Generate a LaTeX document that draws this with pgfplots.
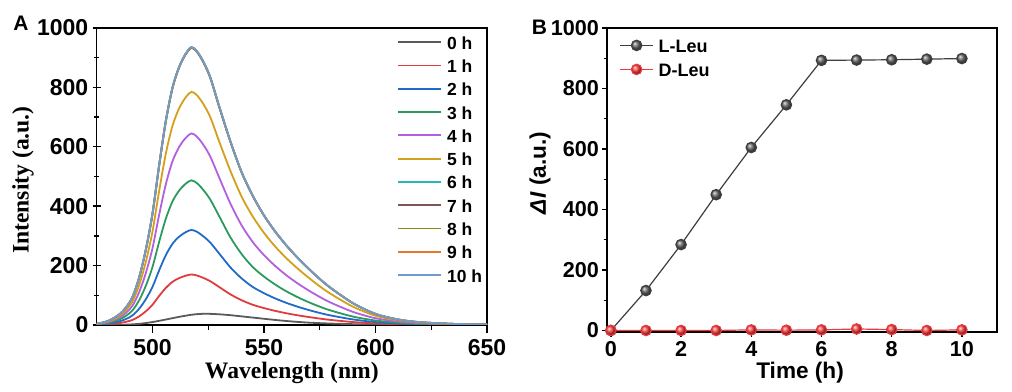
\documentclass[border=0pt]{standalone}
\usepackage{pgfplots}
\usepackage{pgfplotstable}
\pgfplotsset{compat=1.18}
\usepackage{fontspec}
\setmainfont{Liberation Sans}
\newfontfamily\timesfont{Liberation Serif}

\definecolor{c0}{HTML}{5A5A5A}
\definecolor{c1}{HTML}{E03C3F}
\definecolor{c2}{HTML}{1F6BC7}
\definecolor{c3}{HTML}{2C9A5E}
\definecolor{c4}{HTML}{B260DE}
\definecolor{c5}{HTML}{D4A01A}
\definecolor{c6}{HTML}{2BB5BF}
\definecolor{c7}{HTML}{7F5555}
\definecolor{c8}{HTML}{8C8C1E}
\definecolor{c9}{HTML}{E8772E}
\definecolor{c10}{HTML}{6E9CCB}
\definecolor{lleu}{HTML}{3E3E3E}
\definecolor{dleu}{HTML}{EA3A40}

\pgfplotstableread{
w     h0    h1    h2    h3    h4    h5    h6    h7    h8    h9    h10
475   0.0   0.7   1.3   1.9   2.6   3.1   3.7   3.7   3.7   3.7   3.7
480   0.2   2.4   4.5   6.8   9.0   11.0  13.1  13.1  13.1  13.1  13.1
485   0.6   6.3   11.8  18.0  23.9  29.0  34.5  34.6  34.6  34.6  34.6
488   1.2   10.5  19.8  30.2  40.0  48.7  57.8  57.9  58.0  58.0  58.0
491   2.2   17.0  32.0  48.7  64.5  78.5  93.3  93.4  93.5  93.5  93.6
494   3.8   28.9  54.4  82.8  109.7 133.5 158.6 158.8 159.0 159.0 159.1
497   6.5   45.9  86.4  131.5 174.2 212.0 251.9 252.2 252.5 252.6 252.7
500   10.0  68.0  128.0 194.8 258.0 314.0 373.2 373.6 374.0 374.1 374.4
503   14.0  97.8  184.0 280.0 370.9 451.4 536.5 537.1 537.6 537.8 538.2
506   18.5  125.0 235.2 357.9 474.1 577.0 685.8 686.5 687.2 687.4 688.0
509   23.0  145.4 273.6 416.4 551.5 671.2 797.7 798.6 799.4 799.6 800.3
512   27.5  158.1 297.6 452.9 599.9 730.1 867.7 868.6 869.6 869.8 870.5
515   31.5  166.3 313.0 476.3 630.8 767.7 912.5 913.5 914.4 914.7 915.4
517.5 34.5  170.0 320.0 487.0 645.0 785.0 933.0 934.0 935.0 935.0 936.0
520   36.5  166.6 313.6 477.3 633.7 773.2 919.0 920.0 921.0 921.2 922.0
523   37.8  158.1 297.6 452.9 604.7 741.8 881.7 882.6 883.6 883.8 884.5
526   37.5  147.1 276.8 421.3 566.0 698.7 830.4 831.3 832.2 832.4 833.0
530   36.0  127.5 240.0 365.3 495.0 616.2 732.4 733.2 734.0 734.2 734.8
535   33.0  102.9 193.6 294.6 408.0 518.1 615.8 616.4 617.1 617.3 617.8
540   29.0  83.3  156.8 238.6 335.4 431.8 513.2 513.7 514.3 514.4 514.8
545   25.0  68.0  128.0 194.8 279.0 365.0 433.8 434.3 434.8 434.9 435.2
550   21.0  57.0  107.2 163.1 235.4 310.1 368.5 368.9 369.3 369.4 369.7
555   17.0  47.6  89.6  136.4 199.0 264.5 314.4 314.8 315.1 315.2 315.4
560   13.5  39.6  74.6  113.5 167.7 225.3 267.8 268.1 268.3 268.4 268.6
565   10.5  32.8  61.8  94.0  140.6 190.8 226.7 227.0 227.2 227.3 227.4
570   8.0   26.9  50.6  76.9  116.4 159.4 189.4 189.6 189.8 189.9 190.0
575   6.3   21.6  40.6  61.8  94.5  130.3 154.9 155.0 155.2 155.3 155.4
580   4.8   17.0  32.0  48.7  75.1  104.4 124.1 124.2 124.4 124.4 124.5
590   2.8   9.9   18.6  28.2  43.9  61.2  72.8  72.9  72.9  73.0  73.0
600   1.6   5.3   9.9   15.1  22.9  31.4  37.3  37.4  37.4  37.4  37.4
610   1.0   2.7   5.1   7.8   11.6  15.7  18.7  18.7  18.7  18.7  18.7
620   0.5   1.4   2.6   3.9   5.8   7.9   9.3   9.3   9.4   9.4   9.4
635   0.2   0.7   1.3   1.9   2.6   3.1   3.7   3.7   3.7   3.7   3.7
650   0.1   0.3   0.6   1.0   1.3   1.6   1.9   1.9   1.9   1.9   1.9
}\spectra

\pgfplotstableread{
t   L     D
0   0     0
1   132   0
2   284   0
3   449   0
4   605   2
5   746   1
6   893   2
7   894   5
8   895   3
9   897   0
10  899   2
}\kinetics

\begin{document}
\begin{tikzpicture}
\useasboundingbox (0,0) rectangle (506pt,195.5pt);
\begin{axis}[
  at={(48.35pt,33pt)}, anchor=south west,
  scale only axis, width=195.15pt, height=148.5pt,
  xmin=475, xmax=650, ymin=0, ymax=1000,
  xtick={500,550,600,650}, minor x tick num=1,
  ytick={0,200,400,600,800,1000}, minor y tick num=1,
  xtick pos=bottom, ytick pos=left,
  xtick align=outside, ytick align=center,
  major tick length=4pt, minor tick length=2.5pt,
  tick style={black, line width=0.7pt},
  axis line style={line width=0.8pt},
  /pgf/number format/assume math mode=true,
  /pgf/number format/1000 sep={},
  tick label style={font=\fontsize{11.5}{12}\selectfont\bfseries},
  yticklabel style={inner sep=0pt, xshift=-2pt},
  xticklabel style={inner sep=0pt, yshift=-3pt},
  xlabel={Wavelength (nm)}, ylabel={Intensity (a.u.)},
  label style={font=\fontsize{11.8}{13}\selectfont\timesfont\bfseries},
  xlabel style={at={(axis description cs:0.5,-0.162)}, anchor=center},
  ylabel style={at={(axis description cs:-0.189,0.488)}, anchor=center, rotate=0},
  every axis plot/.append style={line width=0.9pt, smooth, no markers},
  legend cell align=left,
  legend image code/.code={\draw[#1] (0pt,0pt) -- (21.5pt,0pt);},
  legend style={draw=none, fill=none, at={(0.769,0.9774)}, anchor=north west,
    inner sep=0pt, row sep=4.65pt,
    font=\fontsize{8.75}{9}\selectfont\bfseries,
    nodes={inner sep=0pt, text height=7pt, text depth=0pt},
    /tikz/every odd column/.append style={column sep=2.5pt}},
]
\addplot[c0]  table[x=w,y=h0]  {\spectra}; \addlegendentry{0 h}
\addplot[c1]  table[x=w,y=h1]  {\spectra}; \addlegendentry{1 h}
\addplot[c2]  table[x=w,y=h2]  {\spectra}; \addlegendentry{2 h}
\addplot[c3]  table[x=w,y=h3]  {\spectra}; \addlegendentry{3 h}
\addplot[c4]  table[x=w,y=h4]  {\spectra}; \addlegendentry{4 h}
\addplot[c5]  table[x=w,y=h5]  {\spectra}; \addlegendentry{5 h}
\addplot[c6]  table[x=w,y=h6]  {\spectra}; \addlegendentry{6 h}
\addplot[c7]  table[x=w,y=h7]  {\spectra}; \addlegendentry{7 h}
\addplot[c8]  table[x=w,y=h8]  {\spectra}; \addlegendentry{8 h}
\addplot[c9]  table[x=w,y=h9]  {\spectra}; \addlegendentry{9 h}
\addplot[c10] table[x=w,y=h10] {\spectra}; \addlegendentry{10 h}
\end{axis}

\begin{axis}[
  at={(303.5pt,29.5pt)}, anchor=south west,
  scale only axis, width=195pt, height=152pt,
  xmin=-0.11, xmax=11, ymin=-5, ymax=1000,
  xtick={0,2,4,6,8,10}, minor x tick num=1,
  ytick={0,200,400,600,800,1000}, minor y tick num=1,
  xtick pos=bottom, ytick pos=left,
  tick align=outside,
  major tick length=2.4pt, minor tick length=1.6pt,
  tick style={black, line width=0.7pt},
  axis line style={line width=0.8pt},
  /pgf/number format/assume math mode=true,
  /pgf/number format/1000 sep={},
  tick label style={font=\fontsize{10.8}{12}\selectfont\bfseries},
  yticklabel style={inner sep=0pt, xshift=-1.5pt},
  xticklabel style={inner sep=0pt, yshift=-2pt},
  xlabel={Time (h)}, ylabel={\textit{ΔI} (a.u.)},
  label style={font=\fontsize{11.3}{13}\selectfont\bfseries},
  xlabel style={at={(axis description cs:0.495,-0.135)}, anchor=center},
  ylabel style={at={(axis description cs:-0.172,0.523)}, anchor=center, rotate=0},
  clip=false,
  legend cell align=left,
  legend image code/.code={\draw[mark repeat=2,mark phase=2,#1] plot coordinates {(0pt,0pt) (8.25pt,0pt) (16.5pt,0pt)};},
  legend style={draw=none, fill=none, at={(0.031,0.967)}, anchor=north west,
    inner sep=0pt, row sep=5pt,
    font=\fontsize{9}{10}\selectfont\bfseries,
    nodes={inner sep=0pt, text height=7pt, text depth=0pt},
    /tikz/every odd column/.append style={column sep=2.5pt}},
]
\addplot[lleu, line width=0.6pt, mark=ball, mark size=2.6pt, mark options={ball color=lleu!80!white}] table[x=t,y=L] {\kinetics}; \addlegendentry{L-Leu}
\addplot[dleu, line width=0.6pt, mark=ball, mark size=2.6pt, mark options={ball color=red!75!white}] table[x=t,y=D] {\kinetics}; \addlegendentry{D-Leu}
\end{axis}

\node[font=\fontsize{10.5}{11}\selectfont\bfseries] at (10.5pt,184pt) {A};
\node[font=\fontsize{10.5}{11}\selectfont\bfseries] at (269.75pt,181.75pt) {B};
\end{tikzpicture}
\end{document}
